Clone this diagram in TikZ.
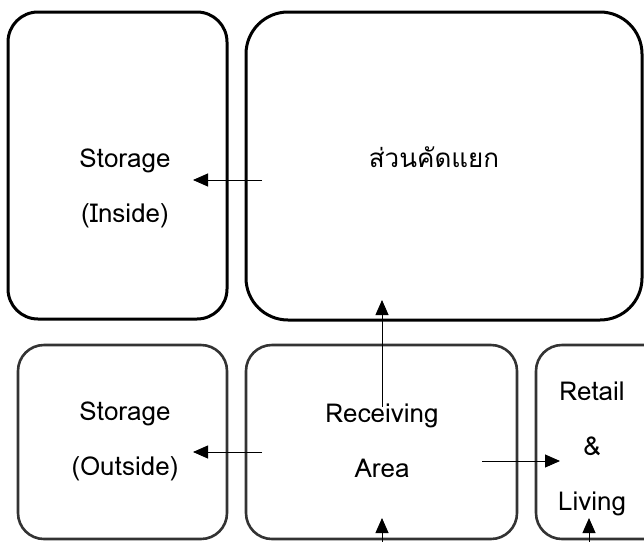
\documentclass[tikz,border=0pt]{standalone}
\usepackage{fontspec}
\setmainfont{Loma}
\newfontfamily\thaifont[Script=Thai]{Loma}
\usetikzlibrary{arrows.meta}

\begin{document}
\begin{tikzpicture}[x=1pt,y=-1pt,
  font=\fontsize{26}{55}\selectfont, >={Triangle[length=15pt,width=13pt]},
  zone/.style={draw, line width=3pt, rounded corners=#1, inner sep=0pt},
  zone/.default=30pt,
  lowzone/.style={zone=#1, line width=2.6pt, draw=black!80},
  lowzone/.default=26pt,
  roomtext/.style={align=center, inner sep=1pt},
  flow/.style={->, line width=0.9pt},
]
\useasboundingbox (0,0) rectangle (644,541);
\clip (0,0) rectangle (644,541);
% rooms
\node[zone=30pt, minimum width=219pt, minimum height=307pt] (inside) at (117.5,165.5) {};
\node[zone=42pt, minimum width=396pt, minimum height=308pt] (sort) at (444,166) {};
\node[lowzone, minimum width=209pt, minimum height=194pt] (outside) at (122.5,442) {};
\node[lowzone, minimum width=271pt, minimum height=194pt] (recv) at (381.5,442) {};
\node[lowzone, minimum width=134pt, minimum height=194pt] (retail) at (603,442) {};
% room names
\node[roomtext] (insideT) at (125,188) {Storage\\(Inside)};
\node[roomtext] (sortT) at (434,157) {\thaifont ส่วนคัดแยก};
\node[roomtext] (outsideT) at (125,441) {Storage\\(Outside)};
\node[roomtext] (recvT) at (382,441) {Receiving\\Area};
\node[roomtext] (retailT) at (592,449) {Retail\\\&\\Living};
% flows
\coordinate (sortW) at (262,180);
\coordinate (insideE) at (193,180);
\coordinate (recvN) at (382,407);
\coordinate (sortS) at (382,300);
\coordinate (recvW) at (262,452);
\coordinate (outsideE) at (193,452);
\coordinate (recvE) at (482,461);
\coordinate (retailW) at (560,461);
\coordinate (recvIn) at (382,545);
\coordinate (recvS) at (382,518);
\coordinate (retailIn) at (589,545);
\coordinate (retailS) at (589,518);
\draw[flow] (sortW) -- (insideE);
\draw[flow] (recvN) -- (sortS);
\draw[flow] (recvW) -- (outsideE);
\draw[flow] (recvE) -- (retailW);
\draw[flow] (recvIn) -- (recvS);
\draw[flow] (retailIn) -- (retailS);
\end{tikzpicture}
\end{document}
